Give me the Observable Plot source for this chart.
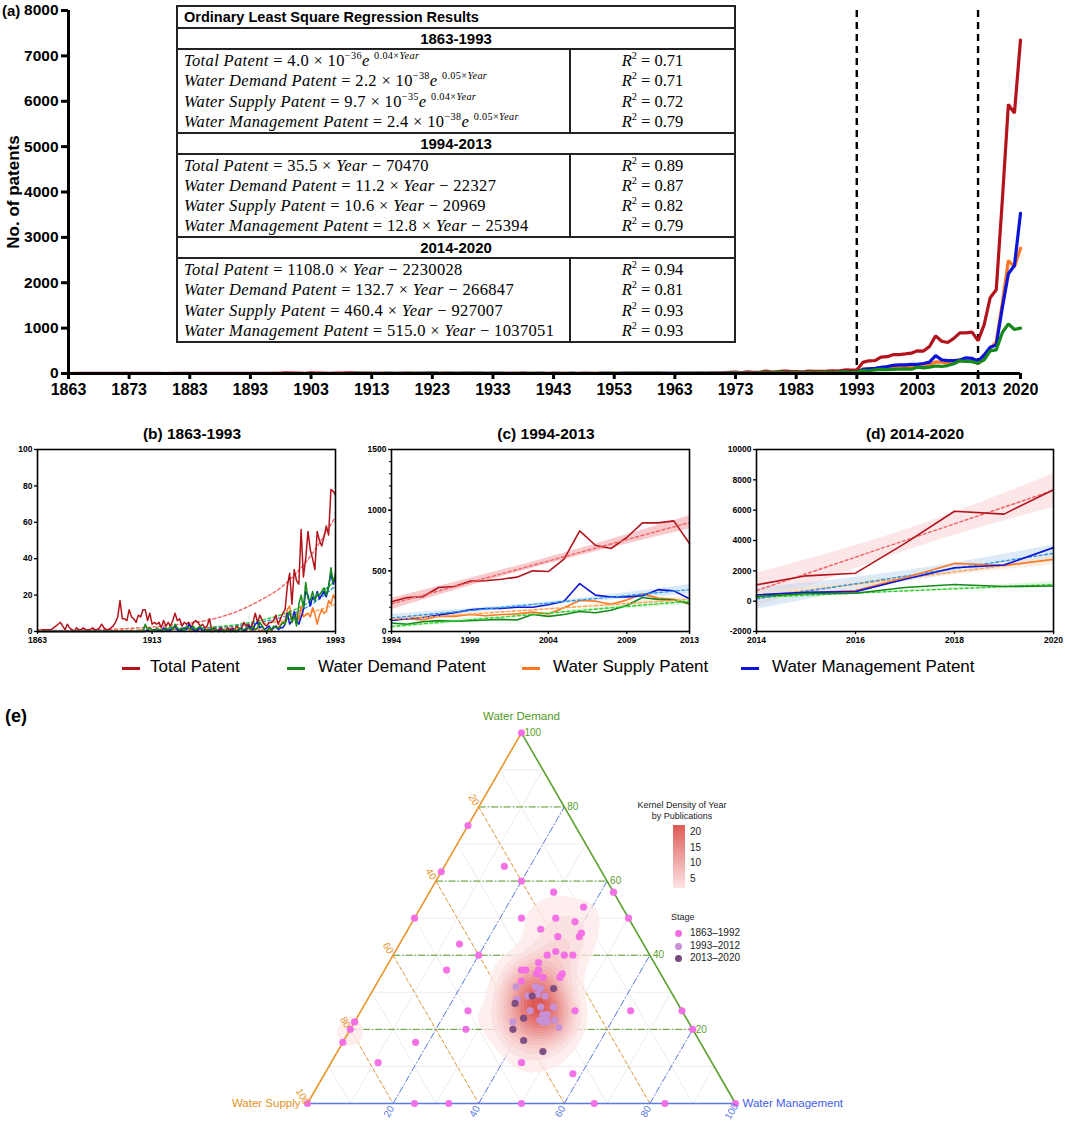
<!DOCTYPE html>
<html><head><meta charset="utf-8">
<script src="https://cdn.jsdelivr.net/npm/d3@7"></script>
<script src="https://cdn.jsdelivr.net/npm/@observablehq/plot@0.6"></script>
<style>
body{margin:0;background:#fff;width:1065px;height:1121px;position:relative;overflow:hidden;font-family:"Liberation Sans",Arial,sans-serif;color:#000}
table.ols{position:absolute;left:176px;top:5px;width:560px;border-collapse:collapse;background:#fff;font-family:"Liberation Serif","Times New Roman",serif}
table.ols td{border:2px solid #222;padding:0;vertical-align:top}
table.ols td.title{font-family:"Liberation Sans",Arial,sans-serif;font-weight:bold;font-size:14.5px;height:20px;line-height:20px;padding-left:6px}
table.ols td.period{font-family:"Liberation Sans",Arial,sans-serif;font-weight:bold;font-size:15px;height:19px;line-height:19px;text-align:center}
table.ols td.eqs{width:385px;padding-left:6px;font-size:16.5px;white-space:nowrap;letter-spacing:0.35px}
table.ols td.r2{text-align:center;font-size:16.5px}
table.ols .blk{height:80.5px;padding-top:1px;line-height:20.3px;overflow:visible}
table.ols sup{font-size:0.62em;line-height:0;vertical-align:0.72em}
.ptitle{position:absolute;top:425px;font-weight:bold;font-size:15.5px;text-align:center;width:300px}
.leg{position:absolute;top:657px;font-size:17px;white-space:nowrap}
.sw{position:absolute;top:667px;width:18px;height:3px}
.tl{position:absolute;font-size:9px;color:#222;white-space:nowrap}
</style></head><body>
<script>
// ---------------- DATA ----------------
const seriesNames = ["Total Patent", "Water Demand Patent", "Water Supply Patent", "Water Management Patent"];
const seriesColors = ["#b3141c", "#16891a", "#ff7722", "#0b14d8"];
const trendColors = ["#f26262", "#2fd12f", "#ffa24f", "#2f97e0"];
const bandColors = ["#f3a7ad", "#bfeebf", "#fde0c4", "#bcd8f2"];

// 1863-1993 (yearly)
const yearsB = d3.range(1863, 1994);
const totalB = [0,0,1,1,1,1,1,2,3,4, 5,3,1,4,2,1,0,2,1,1, 2,1,1,1,2,1,1,2,4,2, 1,1,2,3,5,8,17,7,7,6,
  12,8,7,5,9,8,12,12,6,10, 4,5,4,5,2,6,3,5,3,6, 10,6,7,3,5,4,5,2,5,6, 5,3,4,2,3,7,1,2,1,1,
  2,1,1,2,1,2,1,3,1,2, 5,3,4,2,5,10,5,9,6,4, 3,5,5,6,9,4,7,10,12,25, 32,15,34,28,26,56,30,40,55,45,
  40,34,55,50,47,52,58,53,78,77, 75];
const demandB = [0,0,0,0,0,0,0,0,0,0, 0,0,0,0,0,0,0,0,0,0, 0,0,0,0,0,0,0,0,0,0, 0,0,0,0,0,0,0,0,0,0,
  0,0,0,0,0,0,0,4,1,2, 1,0,2,1,1,0,2,1,3,1, 4,2,1,2,0,3,2,1,3,1, 2,3,1,0,1,0,2,1,1,0,
  0,1,0,1,0,0,1,0,2,1, 1,2,2,1,3,1,2,5,3,1, 0,2,1,3,2,2,3,5,4,8, 11,5,9,3,15,20,13,27,18,17,
  22,17,21,20,22,24,20,24,35,27, 32];
const supplyB = [1,1,0,0,0,0,0,0,0,0, 0,0,0,0,0,0,0,0,0,0, 0,0,0,0,0,0,0,0,0,0, 0,0,0,0,1,0,0,1,0,0,
  0,1,0,0,0,1,0,0,1,0, 1,0,1,0,0,1,2,1,0,1, 2,1,0,1,0,2,1,0,1,0, 1,0,1,0,2,0,0,1,0,0,
  1,0,1,0,0,1,0,1,0,0, 1,0,2,1,0,1,2,0,1,0, 0,1,0,2,3,2,4,5,6,12, 14,5,8,10,6,14,8,9,10,8,
  13,10,4,9,12,10,11,17,15,20, 18];
const mgmtB = [0,0,0,0,0,0,0,0,0,0, 0,0,0,0,0,0,0,0,0,0, 0,0,0,0,0,0,0,0,0,0, 0,0,0,0,0,0,0,0,0,0,
  0,0,0,0,0,0,0,0,1,0, 0,1,0,1,0,2,1,0,1,2, 3,1,0,1,2,1,4,2,1,0, 1,2,0,1,0,1,0,0,1,0,
  1,0,0,1,0,1,0,0,1,2, 0,1,3,2,1,4,5,2,3,1, 2,3,1,2,3,1,2,2,4,10, 4,6,11,6,4,8,12,22,20,14,
  19,17,22,18,20,22,19,25,32,26, 30];

// 1994-2013
const yearsC = d3.range(1994, 2014);
const totalC = [245,280,286,363,371,415,418,431,448,500,494,596,830,711,684,775,895,895,912,725];
const demandC = [70,60,80,90,85,90,95,100,95,140,125,140,165,155,175,215,280,265,260,230];
const supplyC = [95,105,95,125,125,140,130,140,145,160,145,195,255,250,225,260,310,275,265,225];
const mgmtC = [90,105,115,135,155,178,190,190,200,200,220,250,395,300,285,285,295,345,335,270];

// 2014-2020
const yearsD = d3.range(2014, 2021);
const totalD = [1072,1670,1845,3810,5930,5740,7350];
const demandD = [300,500,520,900,1095,970,1000];
const supplyD = [350,550,700,1550,2490,2350,2760];
const mgmtD = [410,580,630,1450,2200,2380,3530];

// fitted trends
const trendYearsB = [1863, 1900, 1920, 1940, 1950, 1960, 1970, 1980, 1993];
const trendTotalB = [0.4, 1.5, 3.3, 7, 11, 17, 25, 38, 63];
const trendDemandB = [0.1, 0.5, 1.1, 2.5, 3.8, 6, 9.5, 15, 28];
const trendSupplyB = [0.1, 0.4, 0.9, 1.8, 2.7, 4, 6, 9.5, 15];
const trendMgmtB = [0.1, 0.4, 0.9, 2.1, 3.2, 5, 8, 13, 25];

const trendYearsC = [1994, 2013];
const trendTotalC = [228, 898], trendDemandC = [42, 250], trendSupplyC = [100, 265], trendMgmtC = [112, 345];
const bandYearsC = [1994, 2003.5, 2013];
const bandTotalC = [[180, 540, 845], [275, 592, 955]];
const bandDemandC = [[20, 135, 222], [64, 156, 278]];
const bandSupplyC = [[78, 172, 238], [122, 192, 292]];
const bandMgmtC = [[82, 212, 308], [142, 240, 385]];

const trendYearsD = [2014, 2020];
const trendTotalD = [700, 7300], trendDemandD = [250, 1100], trendSupplyD = [300, 2750], trendMgmtD = [150, 3150];
const bandYearsD = [2014, 2017, 2020];
const bandTotalD = [[-450, 3300, 6200], [1850, 4700, 8400]];
const bandDemandD = [[80, 600, 900], [420, 750, 1300]];
const bandSupplyD = [[-50, 1350, 2400], [650, 1700, 3100]];
const bandMgmtD = [[-550, 1300, 2600], [850, 2000, 3700]];

// axis ticks
const ticksXA = [1863,1873,1883,1893,1903,1913,1923,1933,1943,1953,1963,1973,1983,1993,2003,2013,2020];
const ticksYA = [0,1000,2000,3000,4000,5000,6000,7000,8000];
const stageBreaks = [1993, 2013];
const ticksXB = [1863, 1913, 1963, 1993], ticksYB = [0, 20, 40, 60, 80, 100];
const ticksXC = [1994, 1999, 2004, 2009, 2013], ticksYC = [0, 500, 1000, 1500];
const minorYC = d3.range(0, 1501, 100);
const ticksXD = [2014, 2016, 2018, 2020], ticksYD = [-2000, 0, 2000, 4000, 6000, 8000, 10000];

// regression table
const periods = ["1863-1993", "1994-2013", "2014-2020"];
const expCoef = [4.0, 2.2, 9.7, 2.4], expPow = [36, 38, 35, 38], expRate = [0.04, 0.05, 0.04, 0.05];
const r2Exp = [0.71, 0.71, 0.72, 0.79];
const slope1 = [35.5, 11.2, 10.6, 12.8], icpt1 = [70470, 22327, 20969, 25394], r2Lin1 = [0.89, 0.87, 0.82, 0.79];
const slope2 = [1108.0, 132.7, 460.4, 515.0], icpt2 = [2230028, 266847, 927007, 1037051], r2Lin2 = [0.94, 0.81, 0.93, 0.93];

// ternary points (percent): demand, supply, management, stage
const ptDemand = [100,75,62.5,64,60,57,57,53,50,50,50,49,50,47,46,45,45,43,41,40,40,40,40,36,38,36,36,35,36,34,33,35,34,25,25,25,25,22,20,20,20,16.5,16.5,11,11,8,0,0,0,0,0,0,0,
  31.5,31.5,31,29.5,29,29,28,26,26,25,24,24,23,22.5,22,22.5,22,22,20.5,
  29,31,27,23,20,17,14];
const ptMgmt = [0,0,0,14,20,43,29,38,0,25,33,38,50,31,41,41,36,14,37.5,36,20,40,42,14.5,35,32,33,36,36,38,33.5,42,42,25,50,63,75,0,0,27,80,0,17,11,44.5,58,0,25,33,50,67,83.5,100,
  33,37.5,39,39,41,37,35,41.5,44.5,39.5,44,43,44,46.5,37,43,44,45,48.5,
  38,42,35,39,38,42,48];
const ptSupply = [0,25,37.5,22,20,0,14,9,50,25,17,13,0,22,13,14,19,43,21.5,24,40,20,18,49.5,27,32,31,29,28,28,33.5,23,24,50,25,12,0,78,80,53,0,83.5,66.5,78,44.5,34,100,75,67,50,33,16.5,0,
  35.5,31,30,31.5,30,34,37,32.5,29.5,35.5,32,33,33,31,41,34.5,34,33,31,
  33,27,38,38,42,41,38];
const ptStage = [...Array(53).fill(1), ...Array(19).fill(2), ...Array(7).fill(3)];
const stageLabels = ["1863\u20131992", "1993\u20132012", "2013\u20132020"];
const stageColors = ["#f26ce6", "#c592d8", "#7a4a7e"];
const ternLevels = [10,20,30,40,50,60,70,80,90];
const ternMajor = [20,40,60,80];
const ternLabelLevels = [20,40,60,80,100];
const densityLegendTicks = [20, 15, 10, 5];

// ---------------- HELPERS ----------------
const FONT = "Liberation Sans, Arial, sans-serif";
function rows(years, vals) { return years.map((y, i) => ({year: y, value: vals[i]})); }
function bandRows(years, b) { return years.map((y, i) => ({year: y, lo: b[0][i], hi: b[1][i]})); }
function place(el, left, top) { el.style.position = "absolute"; el.style.left = left + "px"; el.style.top = top + "px"; document.body.appendChild(el); }
function div(html, cls, left, top, extra) { const d = document.createElement("div"); if (cls) d.className = cls; d.innerHTML = html; if (extra) Object.assign(d.style, extra); place(d, left, top); return d; }
const fmt = d => String(d);

// ---------------- PANEL (a) ----------------
const allYears = [...yearsB, ...yearsC, ...yearsD];
const allSeries = [
  [...totalB, ...totalC, ...totalD],
  [...demandB, ...demandC, ...demandD],
  [...supplyB, ...supplyC, ...supplyD],
  [...mgmtB, ...mgmtC, ...mgmtD]
];
const drawOrder = [0, 2, 3, 1];
const plotA = Plot.plot({
  width: 1065, height: 400, marginLeft: 68, marginRight: 45, marginTop: 10, marginBottom: 27,
  x: {domain: [1863, 2020]}, y: {domain: [0, 8000]},
  style: {fontFamily: FONT, fontWeight: "bold", color: "#000", background: "transparent", overflow: "visible"},
  marks: [
    Plot.ruleX(stageBreaks, {stroke: "#000", strokeWidth: 2.4, strokeDasharray: "7,5"}),
    ...drawOrder.map(k => Plot.line(rows(allYears, allSeries[k]), {x: "year", y: "value", stroke: seriesColors[k], strokeWidth: 3.2, strokeLinejoin: "miter"})),
    Plot.ruleY([0], {stroke: "#000", strokeWidth: 3}),
    Plot.ruleX([1863], {stroke: "#000", strokeWidth: 3}),
    Plot.axisX({ticks: ticksXA, tickFormat: fmt, tickSize: 6, strokeWidth: 3, fontSize: 16, tickPadding: 4, label: null}),
    Plot.axisY({ticks: ticksYA, tickFormat: fmt, tickSize: 7, strokeWidth: 3, fontSize: 15.5, tickPadding: 3, label: null})
  ]
});
place(plotA, 0, 0);
div("(a)", "", 2, 2, {fontWeight: "bold", fontSize: "15px"});
div("No. of patents", "", -51, 182, {fontWeight: "bold", fontSize: "17px", lineHeight: "20px", width: "130px", textAlign: "center", transform: "rotate(-90deg)"});

// regression table
(function () {
  const nm = n => `<i>${n}</i>`;
  const expEq = i => `${nm(seriesNames[i])} = ${expCoef[i].toFixed(1)} × 10<sup>−${expPow[i]}</sup><i>e</i> <sup>${expRate[i].toFixed(2)}×<i>Year</i></sup>`;
  const linEq = (i, s, c) => `${nm(seriesNames[i])} = ${s[i].toFixed(1)} × <i>Year</i> − ${c[i]}`;
  const r2 = v => `<i>R</i><sup>2</sup> = ${v.toFixed(2)}`;
  const blocks = [
    [0,1,2,3].map(expEq),
    [0,1,2,3].map(i => linEq(i, slope1, icpt1)),
    [0,1,2,3].map(i => linEq(i, slope2, icpt2))
  ];
  const r2s = [r2Exp, r2Lin1, r2Lin2];
  let h = `<tr><td class="title" colspan="2">Ordinary Least Square Regression Results</td></tr>`;
  periods.forEach((p, k) => {
    h += `<tr><td class="period" colspan="2">${p}</td></tr>`;
    h += `<tr><td class="eqs"><div class="blk">${blocks[k].join("<br>")}</div></td><td class="r2"><div class="blk">${r2s[k].map(r2).join("<br>")}</div></td></tr>`;
  });
  const t = document.createElement("table");
  t.className = "ols";
  t.innerHTML = h;
  document.body.appendChild(t);
})();

// ---------------- SMALL PANELS ----------------
function smallPanel({left, width, ml, mr, xDomain, yDomain, xTicks, yTicks, minor, marks}) {
  const p = Plot.plot({
    width, height: 205, marginLeft: ml, marginRight: mr, marginTop: 4, marginBottom: 19,
    x: {domain: xDomain}, y: {domain: yDomain},
    style: {fontFamily: FONT, fontWeight: "bold", color: "#000", background: "transparent", overflow: "visible"},
    marks: [
      ...marks,
      Plot.frame({stroke: "#000", strokeWidth: 1.6}),
      ...(minor ? [Plot.axisY({ticks: minor, tickSize: 2, tickFormat: () => "", strokeWidth: 1, label: null})] : []),
      Plot.axisX({ticks: xTicks, tickSize: 3, tickFormat: fmt, fontSize: 8.5, tickPadding: 2, strokeWidth: 1.3, label: null}),
      Plot.axisY({ticks: yTicks, tickSize: 3, tickFormat: fmt, fontSize: 8.5, tickPadding: 2, strokeWidth: 1.3, label: null})
    ]
  });
  place(p, left, 445);
}
function seriesLines(years, arrs, order, sw) {
  return order.map(k => Plot.line(rows(years, arrs[k]), {x: "year", y: "value", stroke: seriesColors[k], strokeWidth: sw}));
}
function trendLines(years, arrs, curve) {
  return [0,1,2,3].map(k => Plot.line(rows(years, arrs[k]), {x: "year", y: "value", stroke: trendColors[k], strokeWidth: 1.4, strokeDasharray: "3,2.5", curve: curve || "linear"}));
}
function bands(years, arrs, opac) {
  return [0,3,2,1].map(k => Plot.areaY(bandRows(years, arrs[k]), {x: "year", y1: "lo", y2: "hi", fill: bandColors[k], fillOpacity: opac[k], curve: "natural"}));
}

// (b)
smallPanel({left: 0, width: 345, ml: 37, mr: 10, xDomain: [1863, 1993], yDomain: [0, 100], xTicks: ticksXB, yTicks: ticksYB,
  marks: [
    ...trendLines(trendYearsB, [trendTotalB, trendDemandB, trendSupplyB, trendMgmtB], "monotone-x"),
    ...seriesLines(yearsB, [totalB, demandB, supplyB, mgmtB], [0, 2, 3, 1], 1.5)
  ]});
div("(b) 1863-1993", "ptitle", 42, 425);

// (c)
smallPanel({left: 355, width: 345, ml: 36, mr: 11, xDomain: [1994, 2013], yDomain: [0, 1500], xTicks: ticksXC, yTicks: ticksYC, minor: minorYC,
  marks: [
    ...bands(bandYearsC, [bandTotalC, bandDemandC, bandSupplyC, bandMgmtC], [0.6, 0.45, 0.45, 0.55]),
    ...seriesLines(yearsC, [totalC, demandC, supplyC, mgmtC], [0, 2, 3, 1], 1.6),
    ...trendLines(trendYearsC, [trendTotalC, trendDemandC, trendSupplyC, trendMgmtC])
  ]});
div("(c) 1994-2013", "ptitle", 396, 425);

// (d)
smallPanel({left: 705, width: 360, ml: 51, mr: 12, xDomain: [2014, 2020], yDomain: [-2000, 10000], xTicks: ticksXD, yTicks: ticksYD,
  marks: [
    ...bands(bandYearsD, [bandTotalD, bandDemandD, bandSupplyD, bandMgmtD], [0.28, 0.45, 0.45, 0.5]),
    ...trendLines(trendYearsD, [trendTotalD, trendDemandD, trendSupplyD, trendMgmtD]),
    ...seriesLines(yearsD, [totalD, demandD, supplyD, mgmtD], [0, 2, 3, 1], 1.6)
  ]});
div("(d) 2014-2020", "ptitle", 765, 425);

// shared legend
const legSw = [122, 287, 522, 741], legTx = [150, 318, 553, 772];
seriesNames.forEach((n, k) => {
  div("", "sw", legSw[k], 667, {background: seriesColors[k]});
  div(n, "leg", legTx[k], 657);
});

// ---------------- PANEL (e): ternary ----------------
div("(e)", "", 5, 706, {fontWeight: "bold", fontSize: "18px"});
const SQ = Math.sqrt(3) / 2;
function tern(d, s, m) { const t = d + s + m; d = d / t * 100; m = m / t * 100; return {X: m + d / 2, Y: d * SQ}; }
const pts = ptDemand.map((d, i) => ({...tern(d, ptSupply[i], ptMgmt[i]), stage: ptStage[i], w: ptStage[i] === 1 ? 0.45 : 1}));
function seg(a, b) { const p = tern(...a), q = tern(...b); return {x1: p.X, y1: p.Y, x2: q.X, y2: q.Y}; }
// lines of constant demand, supply, management
const dLines = k => seg([k, 100 - k, 0], [k, 0, 100 - k]);
const sLines = k => seg([100 - k, k, 0], [0, k, 100 - k]);
const mLines = k => seg([0, 100 - k, k], [100 - k, 0, k]);
const grid = [...ternLevels.map(dLines), ...ternLevels.map(sLines), ...ternLevels.map(mLines)];
const gD = "#5aa02c", gS = "#e8952c", gM = "#5a7ae6";
const dDash = "7,2,1.5,2";
const plotE = Plot.plot({
  width: 680, height: 421, marginLeft: 107, marginRight: 145, marginTop: 32.3, marginBottom: 18,
  x: {domain: [0, 100], axis: null}, y: {domain: [0, 100 * SQ], axis: null},
  color: {type: "linear", range: ["#fff3f2", "#dc5552"]},
  style: {fontFamily: FONT, background: "transparent", overflow: "visible"},
  marks: [
    Plot.link(grid, {x1: "x1", y1: "y1", x2: "x2", y2: "y2", stroke: "#e4e4e4", strokeWidth: 0.7}),
    Plot.link(ternMajor.map(dLines), {x1: "x1", y1: "y1", x2: "x2", y2: "y2", stroke: gD, strokeWidth: 1, strokeDasharray: dDash}),
    Plot.link(ternMajor.map(sLines), {x1: "x1", y1: "y1", x2: "x2", y2: "y2", stroke: gS, strokeWidth: 1, strokeDasharray: "4,2.5"}),
    Plot.link(ternMajor.map(mLines), {x1: "x1", y1: "y1", x2: "x2", y2: "y2", stroke: gM, strokeWidth: 1, strokeDasharray: dDash}),
    Plot.density(pts, {x: "X", y: "Y", weight: "w", fill: "density", bandwidth: 14, thresholds: 16, fillOpacity: 0.75, stroke: "#fff", strokeOpacity: 0.2, strokeWidth: 0.5}),
    Plot.link([seg([0, 100, 0], [100, 0, 0])], {x1: "x1", y1: "y1", x2: "x2", y2: "y2", stroke: gS, strokeWidth: 1.6}),
    Plot.link([seg([100, 0, 0], [0, 0, 100])], {x1: "x1", y1: "y1", x2: "x2", y2: "y2", stroke: gD, strokeWidth: 1.6}),
    Plot.link([seg([0, 100, 0], [0, 0, 100])], {x1: "x1", y1: "y1", x2: "x2", y2: "y2", stroke: gM, strokeWidth: 1.6}),
    ...[1, 2, 3].map(s => Plot.dot(pts.filter(p => p.stage === s), {x: "X", y: "Y", r: 3.6, fill: stageColors[s - 1], fillOpacity: 0.95})),
    Plot.text(ternLabelLevels.map(k => tern(k, 0, 100 - k)), {x: "X", y: "Y", text: (d, i) => String(ternLabelLevels[i]), dx: 3, textAnchor: "start", fill: gD, fontSize: 10}),
    Plot.text(ternLabelLevels.map(k => tern(100 - k, k, 0)), {x: "X", y: "Y", text: (d, i) => String(ternLabelLevels[i]), dx: -5, dy: -7, rotate: 60, fill: gS, fontSize: 10}),
    Plot.text(ternLabelLevels.map(k => tern(0, 100 - k, k)), {x: "X", y: "Y", text: (d, i) => String(ternLabelLevels[i]), dx: -4, dy: 8, rotate: -60, fill: gM, fontSize: 10}),
    Plot.text([tern(100, 0, 0)], {x: "X", y: "Y", text: () => "Water Demand", dy: -16, fill: "#4f9a22", fontSize: 11.5}),
    Plot.text([tern(0, 100, 0)], {x: "X", y: "Y", text: () => "Water Supply", dx: -7, textAnchor: "end", fill: "#e29224", fontSize: 11.5}),
    Plot.text([tern(0, 0, 100)], {x: "X", y: "Y", text: () => "Water Management", dx: 7, textAnchor: "start", fill: "#3e5ee6", fontSize: 11.5})
  ]
});
place(plotE, 200, 700);

// ternary legends
div("Kernel Density of Year<br>by Publications", "tl", 628, 800, {textAlign: "center", width: "108px", lineHeight: "11px"});
div("", "", 673, 825, {width: "12px", height: "63px", background: "linear-gradient(to bottom, #dd5a55, #fde4e3)"});
const dlY = [832, 848, 863, 879];
densityLegendTicks.forEach((t, i) => div(String(t), "tl", 690, dlY[i] - 6, {fontSize: "10px"}));
div("Stage", "tl", 671, 912, {fontSize: "9px"});
const stY = [933, 946, 958];
stageLabels.forEach((s, i) => {
  div("", "", 675, stY[i] - 3.5, {width: "7px", height: "7px", borderRadius: "50%", background: stageColors[i]});
  div(s, "tl", 690, stY[i] - 6.5, {fontSize: "10px"});
});
</script>
</body></html>
